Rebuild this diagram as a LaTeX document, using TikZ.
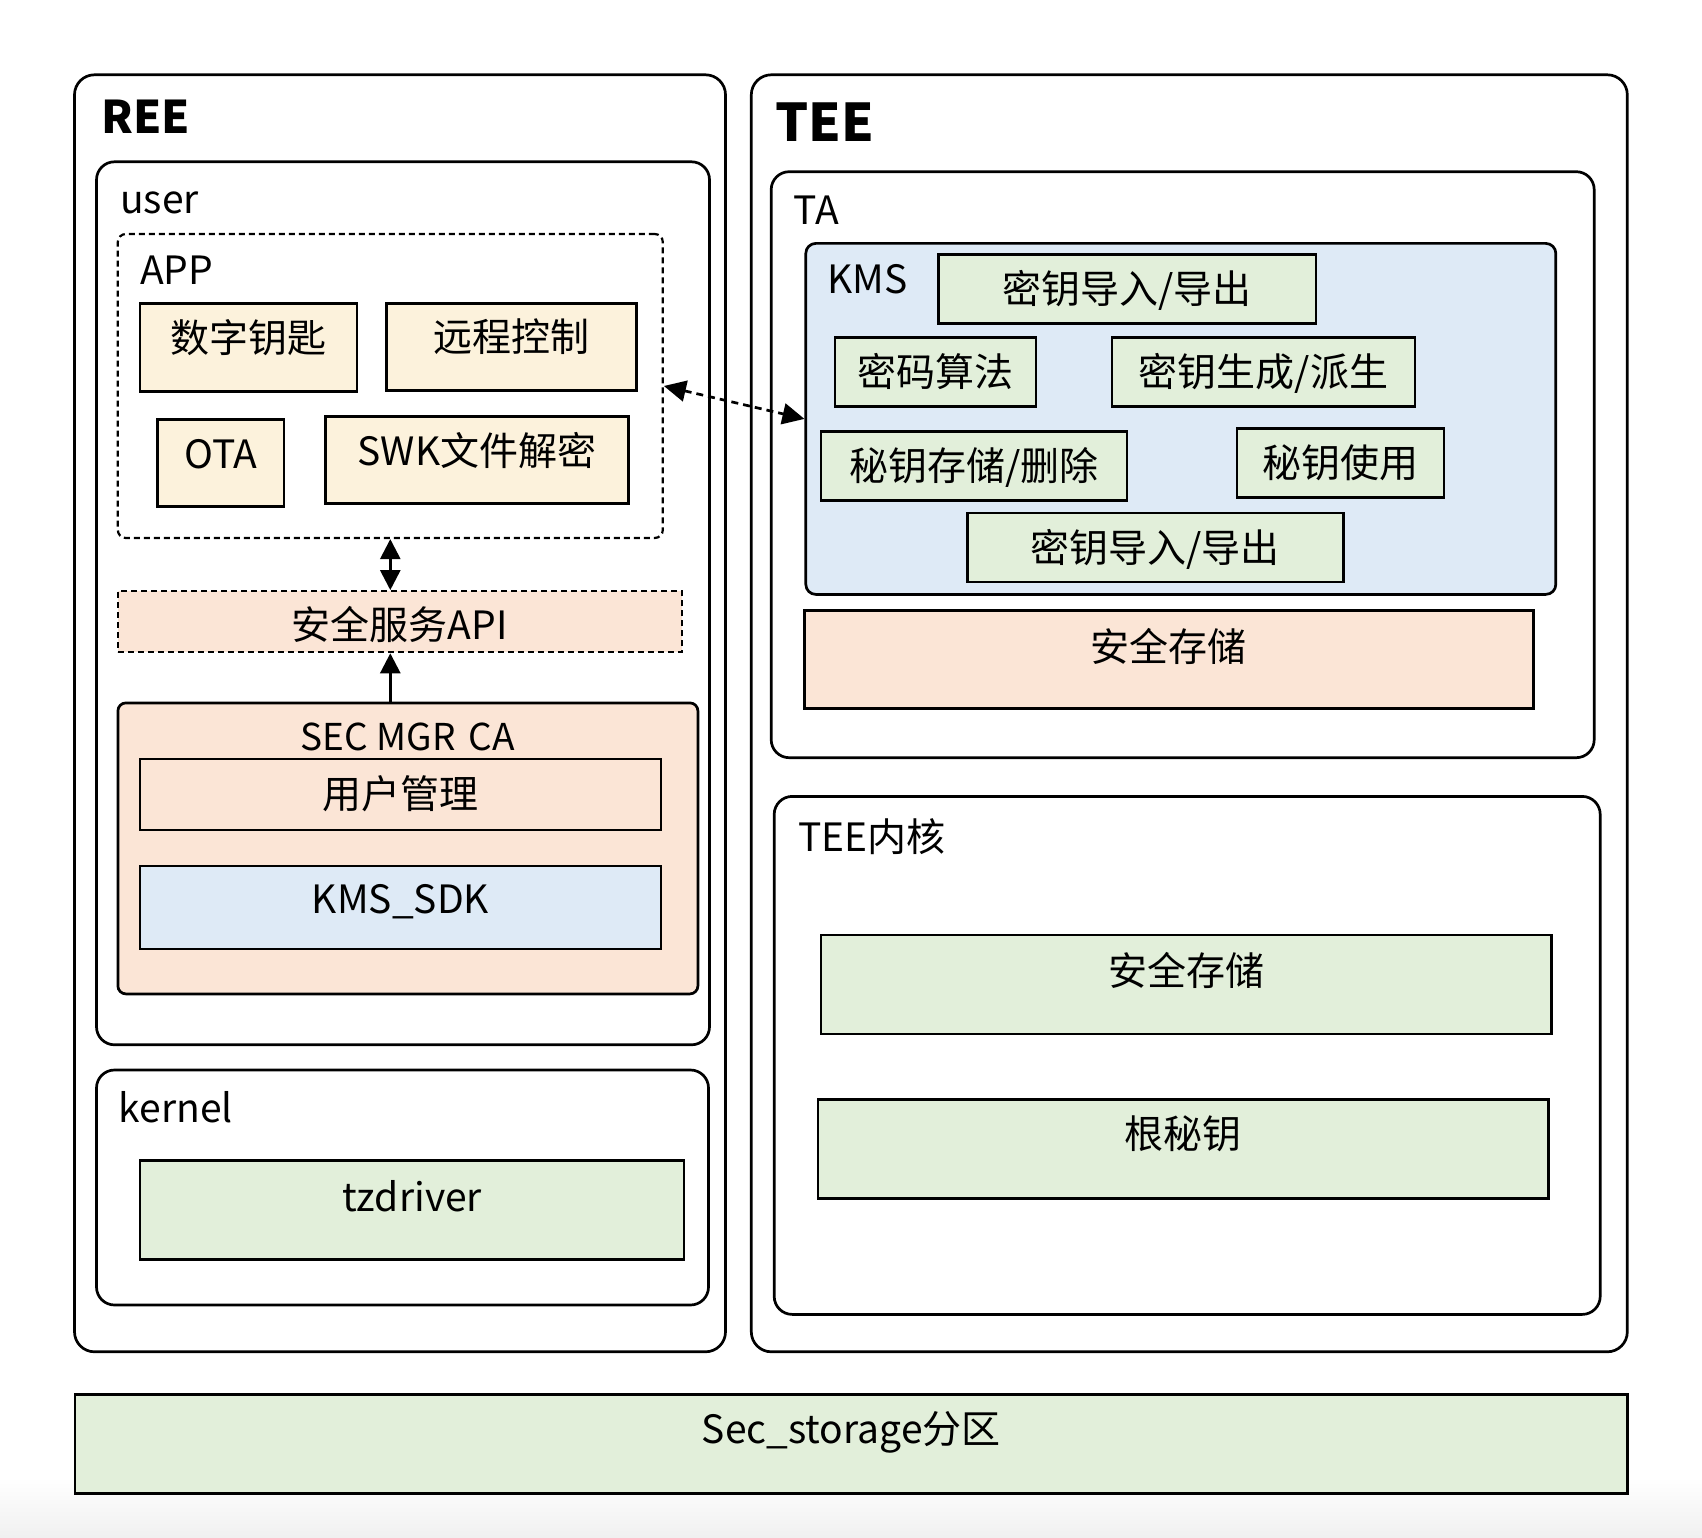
\documentclass[tikz,border=0pt]{standalone}
\usepackage{fontspec}
\setmainfont{Noto Sans CJK SC}
\usetikzlibrary{arrows.meta}
\definecolor{cream}{HTML}{FCF2DC}
\definecolor{peach}{HTML}{FBE5D6}
\definecolor{skyblue}{HTML}{DEEAF6}
\definecolor{mint}{HTML}{E2EFDA}
\begin{document}
\begin{tikzpicture}[x=1pt,y=-1pt,
    every node/.style={font=\fontsize{39}{44}\selectfont},
    blk/.style={draw,line width=2.7pt,inner sep=0pt,text height=40pt,text depth=#1},
    blk/.default=20pt,
    panel/.style={draw,line width=2.7pt,inner sep=0pt,rounded corners=#1},
    panel/.default=18pt,
    ttl/.style={anchor=base west,inner sep=0pt},
    dblarrow/.style={line width=2.7pt,{Triangle[length=20pt,width=20pt]}-{Triangle[length=20pt,width=20pt]}}]
      \useasboundingbox(0,0)rectangle(1702,1538);
      \shade[top color=white,bottom color=black!6](0,1478)rectangle(1702,1538);
      % outer frames
      \node (ree) [panel=20pt,minimum width=651pt,minimum height=1277pt] at(400,713.3){};
      \node (tee) [panel=20pt,minimum width=876pt,minimum height=1277pt] at(1189.3,713.3){};
      \node (user) [panel,minimum width=613pt,minimum height=883pt] at(403,603.3){};
      \node (kernel) [panel,minimum width=612pt,minimum height=235pt] at(402.5,1187.5){};
      \node (ta) [panel,minimum width=823pt,minimum height=586pt] at(1182.7,464.7){};
      \node (teek) [panel,minimum width=826pt,minimum height=518pt] at(1187.2,1055.4){};
      \node[ttl,font=\fontsize{45}{50}\selectfont\bfseries] (reet) at(101,133.4){REE};
      \node[ttl,font=\fontsize{52}{58}\selectfont\bfseries] (teet) at(775,142){TEE};
      \node[ttl] (usert) at(120,214){user};
      \node[ttl] (kernelt) at(118.5,1122){kernel};
      \node[ttl] (tat) at(793.5,224.6){TA};
      \node[ttl] (teekt) at(797.8,851){TEE内核};
      % REE user side
      \node (app) [panel=8pt,line width=2.2pt,dash pattern=on 6pt off 4pt,minimum width=545pt,minimum height=304pt] at(390.3,386){};
      \node[ttl] (appt) at(140,284.5){APP};
      \node (key) [blk=30pt,fill=cream,minimum width=217pt,minimum height=88pt] at(248.5,347.2){数字钥匙};
      \node (ctrl) [blk=30pt,fill=cream,minimum width=250pt,minimum height=87pt] at(511.5,346.7){远程控制};
      \node (ota) [blk=30pt,fill=cream,minimum width=126.5pt,minimum height=87pt] at(220.7,463.2){OTA};
      \node (swk) [blk=30pt,fill=cream,minimum width=303pt,minimum height=87pt] at(477,460.3){SWK文件解密};
      \node (api) [blk=5pt,line width=2.2pt,dash pattern=on 6pt off 4pt,fill=peach,minimum width=564pt,minimum height=61pt] at(399.8,621.7){安全服务API};
      \node (sec) [panel=8pt,fill=peach,minimum width=580pt,minimum height=291pt] at(407.9,848.4){};
      \node[anchor=base,inner sep=0pt,font=\fontsize{37}{42}\selectfont] (sect) at(407.9,750.8){SEC MGR\hspace{5pt} CA};
      \node (um) [blk=12pt,fill=peach,minimum width=521pt,minimum height=71pt] at(400.5,794.4){用户管理};
      \node (sdk) [blk=27pt,fill=skyblue,minimum width=521pt,minimum height=83pt] at(400.5,907.4){KMS\_SDK};
      \node (tzd) [blk=37pt,fill=mint,minimum width=544pt,minimum height=99pt] at(412,1210.2){tzdriver};
      % TEE side
      \node (kms) [panel=10pt,fill=skyblue,minimum width=750pt,minimum height=351pt] at(1180.8,418.9){};
      \node[ttl] (kmst) at(827,293.3){KMS};
      \foreach \n/\x/\y/\w/\t in{%
        imex/1127.1/288.9/377.7/{密钥导入/导出}, algo/935.5/371.7/201/{密码算法},
        gen/1263.4/371.7/303/{密钥生成/派生}, store/974/465.9/306/{秘钥存储/删除},
        use/1340.5/462.7/207/{秘钥使用}, imexb/1155.3/547.6/376/{密钥导入/导出}}{%
        \node (\n) [blk=10pt,fill=mint,minimum width=\w pt,minimum height=69pt] at(\x,\y){\t};
      }
      \node (tass) [blk=37pt,fill=peach,minimum width=729pt,minimum height=98pt] at(1168.9,659.7){安全存储};
      \node (kss) [blk=39pt,fill=mint,minimum width=730.5pt,minimum height=99pt] at(1186.3,984.6){安全存储};
      \node (root) [blk=41pt,fill=mint,minimum width=730.5pt,minimum height=99pt] at(1183.2,1148.7){根秘钥};
      \node (part) [blk=42pt,fill=mint,minimum width=1552.5pt,minimum height=99pt] at(851.2,1444.3){Sec\_storage分区};
      % links
      \draw[dblarrow] (app.south) -- (app.south |- api.north);
      \draw[line width=2.7pt,-{Triangle[length=20pt,width=20pt]}] (sec.north -| app.south) -- (app.south |- api.south);
      \draw[line width=2.7pt,dash pattern=on 7pt off 5pt,{Triangle[length=22pt,width=21pt]}-{Triangle[length=22pt,width=21pt]}] (app.east) -- (kms.west);
    \end{tikzpicture}
\end{document}
